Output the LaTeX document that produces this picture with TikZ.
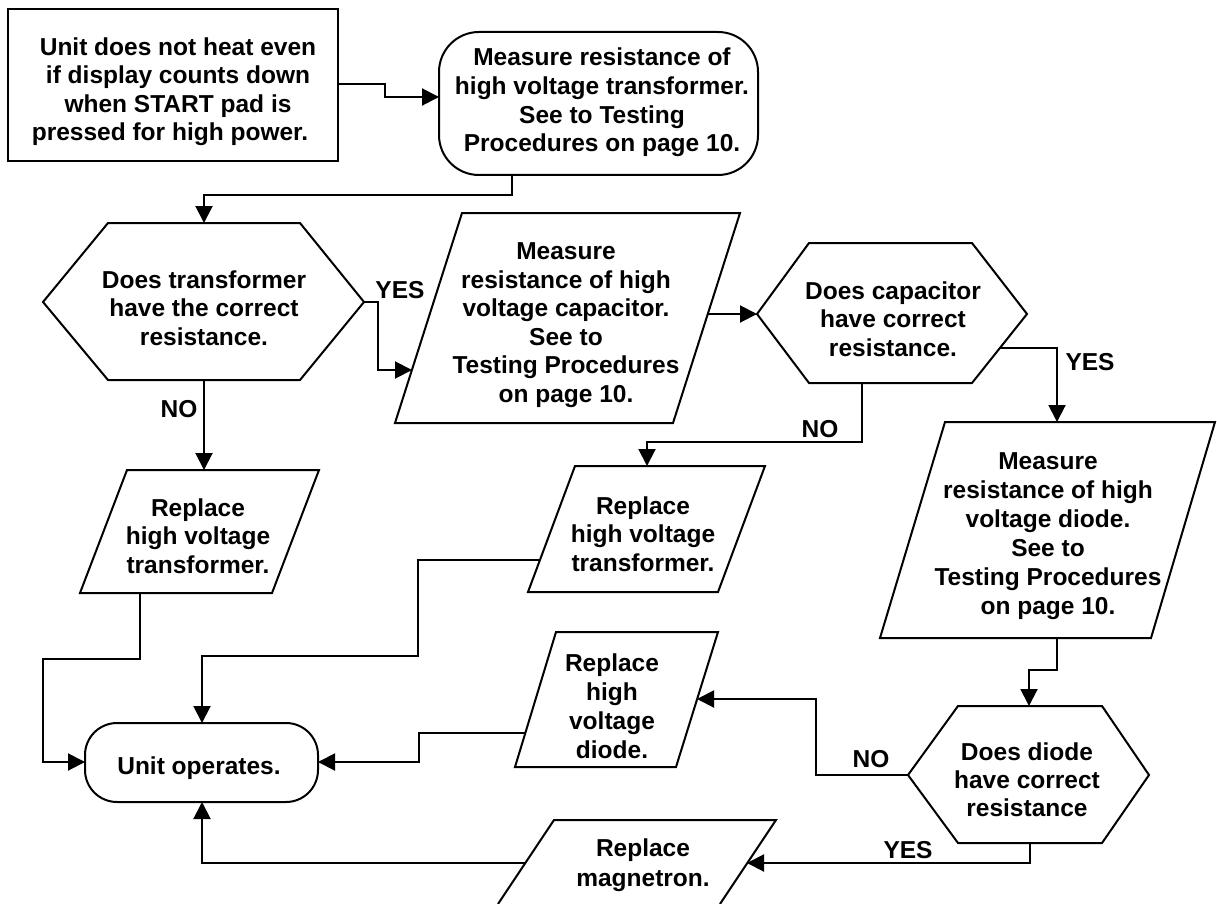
\documentclass[tikz,border=0pt]{standalone}
\usepackage{fontspec}
\setmainfont{Liberation Sans}
\usetikzlibrary{arrows.meta}
\tikzset{
  outline/.style={draw=black, line width=2pt, line join=miter, fill=white},
  conn/.style={draw=black, line width=2pt, -{Triangle[length=17pt,width=17pt]}},
  txt/.style={align=center, inner sep=0pt, font=\fontsize{24.5}{28.5}\selectfont\bfseries},
  lbl/.style={inner sep=0pt, anchor=base, font=\fontsize{24.5}{28.5}\selectfont\bfseries},
}
\begin{document}
\begin{tikzpicture}[x=1pt,y=-1pt]
\fill[white] (0,0) rectangle (1217,904);
\useasboundingbox (0,0) rectangle (1217,904);

% ---------- shapes ----------
\draw[outline] (8,9) rectangle (338,161);
\draw[outline, rounded corners=40pt] (439,32) rectangle (758,175);
\draw[outline] (43,302) -- (108,223) -- (300,223) -- (364,302) -- (300,380) -- (108,380) -- cycle;
\draw[outline] (462,213) -- (740,213) -- (673,423) -- (395,423) -- cycle;
\draw[outline] (757,314) -- (809,243) -- (972,243) -- (1027,314) -- (972,383) -- (809,383) -- cycle;
\draw[outline] (127,470) -- (319,470) -- (272,593) -- (80,593) -- cycle;
\draw[outline] (575,466) -- (765,466) -- (718,592) -- (528,592) -- cycle;
\draw[outline] (945,422) -- (1215,422) -- (1151,638) -- (880,638) -- cycle;
\draw[outline] (556,632) -- (718,632) -- (676,767) -- (515,767) -- cycle;
\draw[outline] (908,775) -- (958,706) -- (1102,706) -- (1149,775) -- (1102,843) -- (958,843) -- cycle;
\draw[outline, rounded corners=32pt] (85,723) rectangle (318,802);
\draw[outline] (498,904) -- (554,820) -- (776,820) -- (720,904);

% ---------- texts ----------
\node[txt, font=\fontsize{24.5}{28.5}\selectfont\bfseries] (start) at (178,91.5)
  {Unit does not heat even\\if display counts down\\when START pad is\\pressed for high power.\hspace*{16pt}};
\node[txt, font=\fontsize{24.5}{28.8}\selectfont\bfseries] (rb) at (602,102.5)
  {Measure resistance of\\high voltage transformer.\\See to Testing\\Procedures on page 10.};
\node[txt, font=\fontsize{24.5}{28.3}\selectfont\bfseries] (h1) at (204,308)
  {Does transformer\\have the correct\\resistance.};
\node[txt] (cap) at (566,325)
  {Measure\\resistance of high\\voltage capacitor.\\See to\\Testing Procedures\\on page 10.};
\node[txt, font=\fontsize{24.5}{28.3}\selectfont\bfseries] (h2) at (893,319)
  {Does capacitor\\have correct\\resistance.};
\node[txt, font=\fontsize{24.5}{28.3}\selectfont\bfseries] (rt1) at (198,536)
  {Replace\\high voltage\\transformer.};
\node[txt, font=\fontsize{24.5}{28.3}\selectfont\bfseries] (rt2) at (643,534)
  {Replace\\high voltage\\transformer.};
\node[txt, font=\fontsize{24.5}{29}\selectfont\bfseries] (dm) at (1048,536)
  {Measure\\resistance of high\\voltage diode.\\See to\\Testing Procedures\\on page 10.};
\node[txt, font=\fontsize{24.5}{28.9}\selectfont\bfseries] (rd) at (612,706)
  {Replace\\high\\voltage\\diode.};
\node[txt, font=\fontsize{24.5}{27.8}\selectfont\bfseries] (h3) at (1027,780)
  {Does diode\\have correct\\resistance};
\node[txt] (uo) at (199,768) {Unit operates.};
\node[txt, font=\fontsize{24.5}{30.5}\selectfont\bfseries] (mg) at (643,865)
  {Replace\\magnetron.};

% ---------- labels ----------
\node[lbl] (yes1) at (400,298) {YES};
\node[lbl] (no1) at (179,417) {NO};
\node[lbl] (no2) at (820,437) {NO};
\node[lbl] (yes2) at (1090,370) {YES};
\node[lbl] (no3) at (871,767) {NO};
\node[lbl] (yes3) at (908,858) {YES};

% ---------- connection points ----------
\coordinate (start-e) at (338,84);
\coordinate (rb-w) at (439,97);
\coordinate (rb-s) at (512,175);
\coordinate (h1-n) at (204,223);
\coordinate (h1-e) at (364,302);
\coordinate (h1-s) at (204,380);
\coordinate (cap-w) at (412,370);
\coordinate (cap-e) at (707,314);
\coordinate (h2-w) at (757,314);
\coordinate (h2-se) at (1000,348);
\coordinate (h2-s) at (862,383);
\coordinate (dm-n) at (1057,422);
\coordinate (dm-s) at (1057,638);
\coordinate (rt1-n) at (204,470);
\coordinate (rt1-s) at (140,593);
\coordinate (rt2-n) at (647,466);
\coordinate (rt2-w) at (540,560);
\coordinate (h3-n) at (1029,706);
\coordinate (h3-w) at (908,775);
\coordinate (h3-s) at (1030,843);
\coordinate (rd-e) at (697,699);
\coordinate (rd-w) at (525,733);
\coordinate (mg-e) at (747,863);
\coordinate (mg-w) at (525,863);
\coordinate (uo-n) at (202,723);
\coordinate (uo-s) at (202,802);
\coordinate (uo-w) at (85,762);
\coordinate (uo-e) at (318,762);

% ---------- connectors ----------
\draw[conn] (start-e) -- ++(47,0) |- (rb-w);
\draw[conn] (rb-s) -- ++(0,20) -| (h1-n);
\draw[conn] (h1-e) -- ++(14,0) |- (cap-w);
\draw[conn] (h1-s) -- (rt1-n);
\draw[conn] (cap-e) -- (h2-w);
\draw[conn] (h2-se) -| (dm-n);
\draw[conn] (h2-s) -- ++(0,59) -| (rt2-n);
\draw[conn] (rt1-s) -- ++(0,66) -- ++(-97,0) |- (uo-w);
\draw[conn] (rt2-w) -- ++(-122,0) -- ++(0,96) -| (uo-n);
\draw[conn] (dm-s) -- ++(0,32) -| (h3-n);
\draw[conn] (h3-w) -- ++(-92,0) |- (rd-e);
\draw[conn] (rd-w) -- ++(-106,0) |- (uo-e);
\draw[conn] (h3-s) |- (mg-e);
\draw[conn] (mg-w) -| (uo-s);
\end{tikzpicture}
\end{document}
